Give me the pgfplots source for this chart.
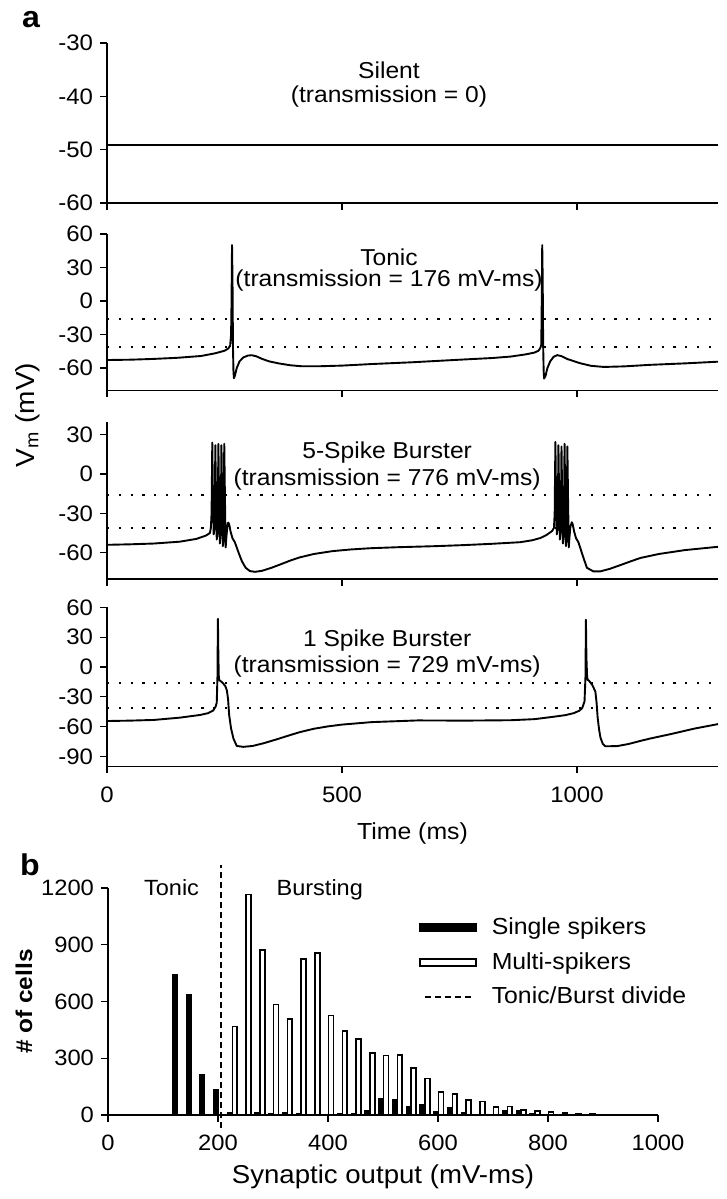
\documentclass[border=0pt]{standalone}
\usepackage{fontspec}
\setmainfont{Liberation Sans}[FakeStretch=1.07]
\usepackage{pgfplots}
\pgfplotsset{compat=1.18}
\newcommand{\fs}[1]{\fontsize{#1}{#1}\selectfont}
\pgfplotsset{
  trace/.style={
    scale only axis, width=305.5pt, anchor=south west, clip=false,
    xmin=0, xmax=1300, axis x line=bottom, axis y line=left,
    axis line style={line width=0.7pt, -},
    xtick={0,500,1000}, tick align=outside, major tick length=3.5pt,
    tick style={line width=0.7pt, black},
    yticklabel style={font=\fs{11.2}},
    xticklabel style={font=\fs{11.2}},
    /pgf/number format/assume math mode=true,
    /pgf/number format/1000 sep={},
  },
}
\tikzset{
  tr/.style={line width=0.95pt, black, line join=round, mark=none},
  dotline/.style={line width=1.1pt, dash pattern=on 1.1pt off 4.8pt, black, mark=none},
  ann/.style={font=\fs{11.5}, inner sep=0pt},
}
\begin{document}
\begin{tikzpicture}
\useasboundingbox (0,0) rectangle (363.5pt,-599.5pt);

% ---------- Panel 1: Silent
\begin{axis}[trace, at={(53.5pt,-101.5pt)}, height=80pt,
  ymin=-60, ymax=-30, ytick={-60,-50,-40,-30}, xticklabels={}]
\addplot[tr] coordinates {(0,-49.1) (1300,-49.1)};
\node[ann] at (axis cs:600,-35.1) {Silent};
\node[ann] at (axis cs:600,-40.1) {(transmission = 0)};
\end{axis}

% ---------- Panel 2: Tonic
\begin{axis}[trace, at={(53.5pt,-195.2pt)}, height=78.2pt,
  ymin=-80, ymax=60, ytick={-60,-30,0,30,60}, xticklabels={}]
\addplot[dotline] coordinates {(0,-16) (1300,-16)};
\addplot[dotline] coordinates {(0,-41) (1300,-41)};
\addplot[tr] coordinates {(0,-52.8) (50,-52.5) (100,-51.8) (150,-50.8) (200,-49.2) (230,-46.8) (250,-44.5) (258,-42.5) (262,-40) (264,-30) (265,0) (266,50) (267,20) (268,-40) (269,-62) (270,-69) (272,-67) (276,-60) (282,-54) (290,-50.5) (300,-48.8) (308,-48.5) (318,-49.5) (330,-51.8) (345,-54) (365,-55.8) (390,-57.5) (415,-58.4) (450,-58.4) (500,-57.8) (563,-56.4) (650,-54.8) (760,-52.3) (820,-51) (859,-49.7) (890,-47.8) (909,-46.2) (918,-44.5) (922,-42) (924,-39) (925,0) (926,50) (927,20) (928,-40) (929,-62) (930,-69.4) (933,-67) (937,-60) (943,-54) (950,-50) (958,-48.4) (968,-49.5) (980,-52) (1007,-55.7) (1030,-58) (1057,-59) (1100,-58.5) (1156,-57.1) (1230,-55.8) (1300,-54.3)};
\node[ann] at (axis cs:600,39) {Tonic};
\node[ann] at (axis cs:600,18.3) {(transmission = 176 mV-ms)};
\end{axis}

% ---------- Panel 3: 5-spike burster
\begin{axis}[trace, at={(53.5pt,-289.45pt)}, height=78.65pt,
  ymin=-80, ymax=40, ytick={-60,-30,0,30}, xticklabels={}]
\addplot[dotline] coordinates {(0,-16) (1300,-16)};
\addplot[dotline] coordinates {(0,-41) (1300,-41)};
\addplot[tr] coordinates {(0,-54) (50,-53.6) (100,-53) (155,-51.6) (190,-49.5) (210,-47) (219,-45) (221,-41) (222.5,-30) (224,24) (225.5,-20) (227,-46) (228.5,-42) (229.5,-20) (230.5,22) (232,-20) (233.5,-50) (235,-45) (236,-20) (237,23) (238.5,-20) (240,-53) (241.5,-48) (242.5,-20) (243.5,22) (245,-20) (246.5,-55) (248,-50) (248.5,-20) (249.5,23) (251,-20) (252.5,-56) (254,-48) (256,-40) (258,-37) (260,-38.5) (263,-44) (267,-49) (272,-52) (280,-60) (287,-66.5) (295,-71.5) (304,-74) (315,-74.6) (330,-73.8) (350,-71.5) (370,-68.8) (390,-66) (410,-63.6) (440,-61) (480,-58.8) (520,-57.5) (560,-56.6) (620,-55.8) (700,-55) (760,-54.2) (820,-53.2) (879,-52) (905,-50.5) (922,-48.8) (935,-46.5) (947,-43.5) (951,-41) (952.5,-30) (954,24.5) (955.5,-20) (957,-46) (958.5,-42) (959.5,-20) (960.5,22) (962,-20) (963.5,-50) (965,-45) (966,-20) (967,21) (968.5,-20) (970,-53) (971.5,-48) (972.5,-20) (973.5,23) (975,-20) (976.5,-55) (978,-50) (978.5,-20) (979.5,21) (981,-20) (982.5,-56) (984,-48) (986,-40) (989,-36.8) (991,-38.5) (994,-44) (998,-49) (1003,-52) (1012,-62) (1021,-71.5) (1035,-74.3) (1050,-74.2) (1070,-72.3) (1092,-69.5) (1115,-66.5) (1135,-64) (1174,-61) (1230,-58) (1300,-55.5)};
\node[ann] at (axis cs:596,16.5) {5-Spike Burster};
\node[ann] at (axis cs:596,-4.5) {(transmission = 776 mV-ms)};
\end{axis}

% ---------- Panel 4: 1 spike burster
\begin{axis}[trace, at={(53.5pt,-383.15pt)}, height=79.45pt,
  ymin=-100, ymax=60, ytick={-90,-60,-30,0,30,60},
  xticklabel style={yshift=-3pt},
  xlabel={Time (ms)}, xlabel style={font=\fs{11.6}, at={(axis description cs:0.5,-0.4217)}, anchor=center}]
\addplot[dotline] coordinates {(0,-16) (1300,-16)};
\addplot[dotline] coordinates {(0,-41) (1300,-41)};
\addplot[tr] coordinates {(0,-54.4) (50,-54) (100,-53.3) (155,-51) (198,-48.3) (215,-46.5) (226,-43.8) (231,-40) (233.5,-36) (235,-10) (236,48.5) (237,10) (238,-12) (240,-13.6) (244,-15) (247.7,-16.8) (252,-19.5) (255,-23.5) (257.5,-32) (260,-48.7) (264,-62) (269,-72) (276,-79.5) (290,-80.4) (310,-79.5) (333,-76.8) (360,-73) (390,-68.5) (411,-65.5) (440,-62.2) (470,-59.8) (500,-58) (563,-55.5) (661,-53.8) (760,-54) (859,-53.6) (910,-52.5) (950,-50.1) (975,-48.5) (993,-46.5) (1005,-44) (1011,-41.4) (1016,-34.7) (1018,-10) (1019,47.6) (1020,10) (1021.5,-10) (1023,-13) (1025.6,-13.8) (1032,-17.8) (1039,-24.5) (1041.5,-35) (1044,-51.3) (1047,-63) (1050,-71.3) (1055,-77.5) (1060,-79.8) (1085,-79.7) (1110,-77.5) (1135,-74.4) (1156,-72) (1200,-67.5) (1250,-62) (1300,-57.5)};
\node[ann] at (axis cs:596,26.7) {1 Spike Burster};
\node[ann] at (axis cs:596,0) {(transmission = 729 mV-ms)};
\end{axis}

% ---------- Panel b: histogram
\begin{axis}[scale only axis, anchor=south west, at={(54pt,-557.5pt)},
  width=275pt, height=113.5pt, clip=false,
  xmin=0, xmax=1000, ymin=0, ymax=1200,
  axis x line=bottom, axis y line=left,
  axis line style={line width=0.7pt, -},
  xtick={0,200,400,600,800,1000}, ytick={0,300,600,900,1200},
  tick align=outside, major tick length=3.5pt,
  tick style={line width=0.7pt, black},
  /pgf/number format/assume math mode=true,
  /pgf/number format/1000 sep={},
  yticklabel style={font=\fs{11.1}},
  xticklabel style={font=\fs{11.1}, yshift=-3pt},
  xlabel={Synaptic output (mV-ms)},
  xlabel style={font=\fs{12.9}, at={(axis description cs:0.5,-0.2731)}, anchor=center},
  ylabel={\textbf{\# of cells}},
  ylabel style={font=\fs{11.4}, at={(axis description cs:-0.1527,0.5)}, anchor=center},
  legend style={draw=none, fill=none, at={(0.565,0.885)}, anchor=north west,
    font=\fs{11.6}, inner sep=0pt, row sep=4.5pt,
    nodes={inner sep=1.5pt},
    /tikz/every odd column/.append style={column sep=6pt}},
  legend cell align=left,
]
\addplot[ybar, bar width=9, fill=black, draw=black, line width=0.6pt,
  legend image code/.code={\draw[fill=black,draw=black,line width=0.6pt] (0pt,-1.75pt) rectangle (28pt,1.75pt);}]
  coordinates {(121.5,742) (146.5,634) (171.5,211) (196.5,136) (221.5,12) (246.5,4) (271.5,14) (296.5,7) (321.5,14) (346.5,5) (371.5,3) (396.5,3) (421.5,5) (446.5,8) (471.5,24) (496.5,85) (521.5,80) (546.5,44) (571.5,53) (596.5,18) (621.5,39) (646.5,12) (671.5,3) (696.5,3) (721.5,21) (746.5,25) (771.5,5)};
\addlegendentry{Single spikers}
\addplot[ybar, bar width=9, fill=white, draw=black, line width=0.8pt,
  legend image code/.code={\draw[fill=white,draw=black,line width=0.8pt] (0pt,-1.75pt) rectangle (28pt,1.75pt);}]
  coordinates {(230.5,467) (255.5,1165) (280.5,872) (305.5,584) (330.5,507) (355.5,826) (380.5,857) (405.5,527) (430.5,445) (455.5,401) (480.5,328) (505.5,315) (530.5,316) (555.5,250) (580.5,192) (605.5,121) (630.5,110) (655.5,80) (680.5,72) (705.5,43) (730.5,46) (755.5,27) (780.5,20) (805.5,16) (830.5,11) (855.5,8) (880.5,7)};
\addlegendentry{Multi-spikers}
\addplot[black, line width=0.6pt, dash pattern=on 3pt off 2pt, mark=none,
  legend image code/.code={\draw[black,line width=0.6pt,dash pattern=on 3pt off 2pt] (2.5pt,0pt) -- (26.5pt,0pt);}]
  coordinates {(205.5,-69) (205.5,1321)};
\addlegendentry{Tonic/Burst divide}
\node[font=\fs{11}] at (axis cs:115.5,1200) {Tonic};
\node[font=\fs{11}] at (axis cs:385,1189) {Bursting};
\end{axis}

% ---------- labels
\node[font=\fs{15}\bfseries] at (15.5pt,-9.75pt) {a};
\node[font=\fs{15}\bfseries] at (15pt,-432.5pt) {b};
\node[font=\fs{13.1}, rotate=90] at (14pt,-207.5pt) {V\textsubscript{m} (mV)};
\end{tikzpicture}
\end{document}
